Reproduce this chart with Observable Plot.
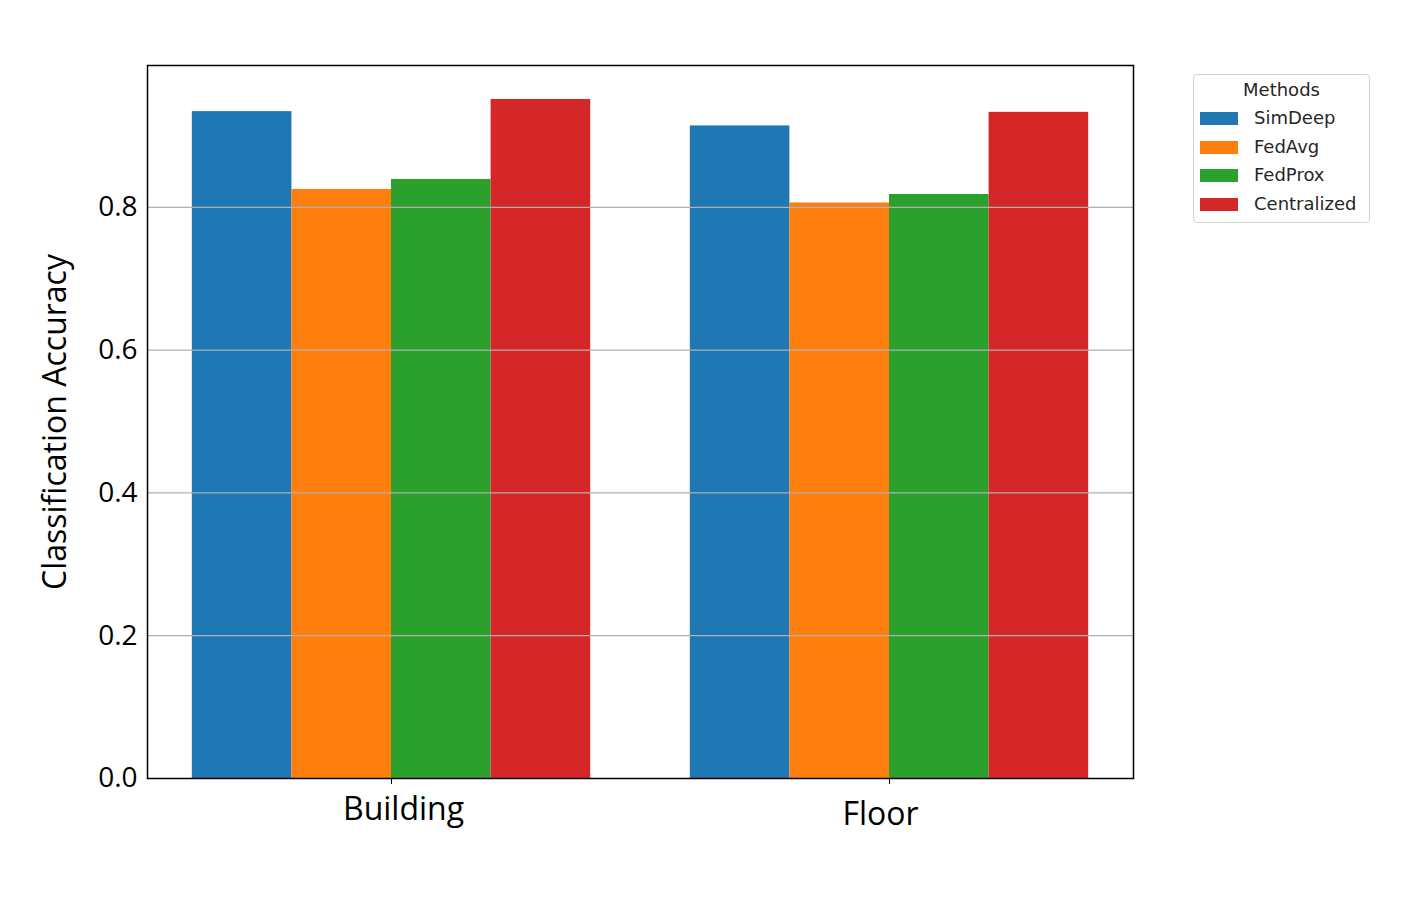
<!DOCTYPE html>
<html>
<head>
<meta charset="utf-8">
<script src="https://cdn.jsdelivr.net/npm/d3@7"></script>
<script src="https://cdn.jsdelivr.net/npm/@observablehq/plot@0.6"></script>
<style>
  html, body { margin: 0; padding: 0; background: #fff; }
  #wrap { position: relative; width: 1410px; height: 912px; }
  #legend {
    position: absolute; left: 1193px; top: 74px; width: 177px; height: 149px;
    border: 1px solid #d3d3d3; border-radius: 4px; box-sizing: border-box;
    font-family: "DejaVu Sans", sans-serif; font-size: 18px; color: #262626;
    background: #fff;
  }
  #legend .title { position: absolute; left: 0; width: 100%; top: 4px; text-align: center; }
  #legend .row { position: absolute; left: 6px; height: 20px; line-height: 20px; }
  #legend .sw { position: absolute; left: 0; top: 4px; width: 38px; height: 13px; }
  #legend .lab { position: absolute; left: 54px; top: 0; white-space: nowrap; }
</style>
</head>
<body>
<div id="wrap"></div>
<script>
const groups = ["Building", "Floor"];
const methods = ["SimDeep", "FedAvg", "FedProx", "Centralized"];
const colors = ["#1f77b4", "#ff7f0e", "#2ca02c", "#d62728"];
const simDeep = [0.934, 0.914];
const fedAvg = [0.825, 0.806];
const fedProx = [0.839, 0.818];
const centralized = [0.951, 0.933];
const yTicks = [0.0, 0.2, 0.4, 0.6, 0.8];

const series = [simDeep, fedAvg, fedProx, centralized];
const barWidth = 0.2;
const data = [];
groups.forEach((g, gi) => {
  methods.forEach((m, mi) => {
    data.push({group: g, gi, method: m, mi, value: series[mi][gi]});
  });
});

const font = "'Open Sans', Lato, sans-serif";

const chart = Plot.plot({
  width: 1410,
  height: 912,
  marginLeft: 147,
  marginRight: 277,
  marginTop: 65,
  marginBottom: 134,
  style: {fontFamily: font, background: "#fff"},
  x: {type: "linear", domain: [-0.49, 1.49]},
  y: {domain: [0, 0.9986]},
  color: {domain: methods, range: colors},
  marks: [
    Plot.rectY(data, {
      x1: d => d.gi + (d.mi - 2) * barWidth,
      x2: d => d.gi + (d.mi - 1) * barWidth,
      y1: 0,
      y2: "value",
      fill: "method"
    }),
    Plot.gridY(yTicks, {stroke: "#b0b0b0", strokeOpacity: 1, strokeWidth: 1.2}),
    Plot.axisY(yTicks, {
      tickFormat: d3.format(".1f"),
      tickSize: 6, tickPadding: 4,
      fontSize: 28, fill: "#000", stroke: null,
      label: null
    }),
    Plot.text(["Classification Accuracy"], {
      frameAnchor: "left", textAnchor: "middle", rotate: -90, dx: -92, fontSize: 32, fill: "#000", text: d => d
    }),
    Plot.axisX([0, 1], {tickSize: 6, tickFormat: () => "", label: null}),
    Plot.text(groups.filter((g, i) => i === 0), {
      x: () => 0, frameAnchor: "bottom", dy: 41, dx: 12, fontSize: 32, fill: "#000", text: d => d
    }),
    Plot.text(groups.filter((g, i) => i === 1), {
      x: () => 1, frameAnchor: "bottom", dy: 46, dx: -9, fontSize: 32, fill: "#000", text: d => d
    }),
    Plot.frame({stroke: "#000", strokeWidth: 1.5})
  ]
});

const wrap = document.getElementById("wrap");
wrap.appendChild(chart);

const legend = document.createElement("div");
legend.id = "legend";
let html = `<div class="title">Methods</div>`;
methods.forEach((m, i) => {
  html += `<div class="row" style="top:${33 + i * 28.7}px"><span class="sw" style="background:${colors[i]}"></span><span class="lab">${m}</span></div>`;
});
legend.innerHTML = html;
wrap.appendChild(legend);
</script>
</body>
</html>
